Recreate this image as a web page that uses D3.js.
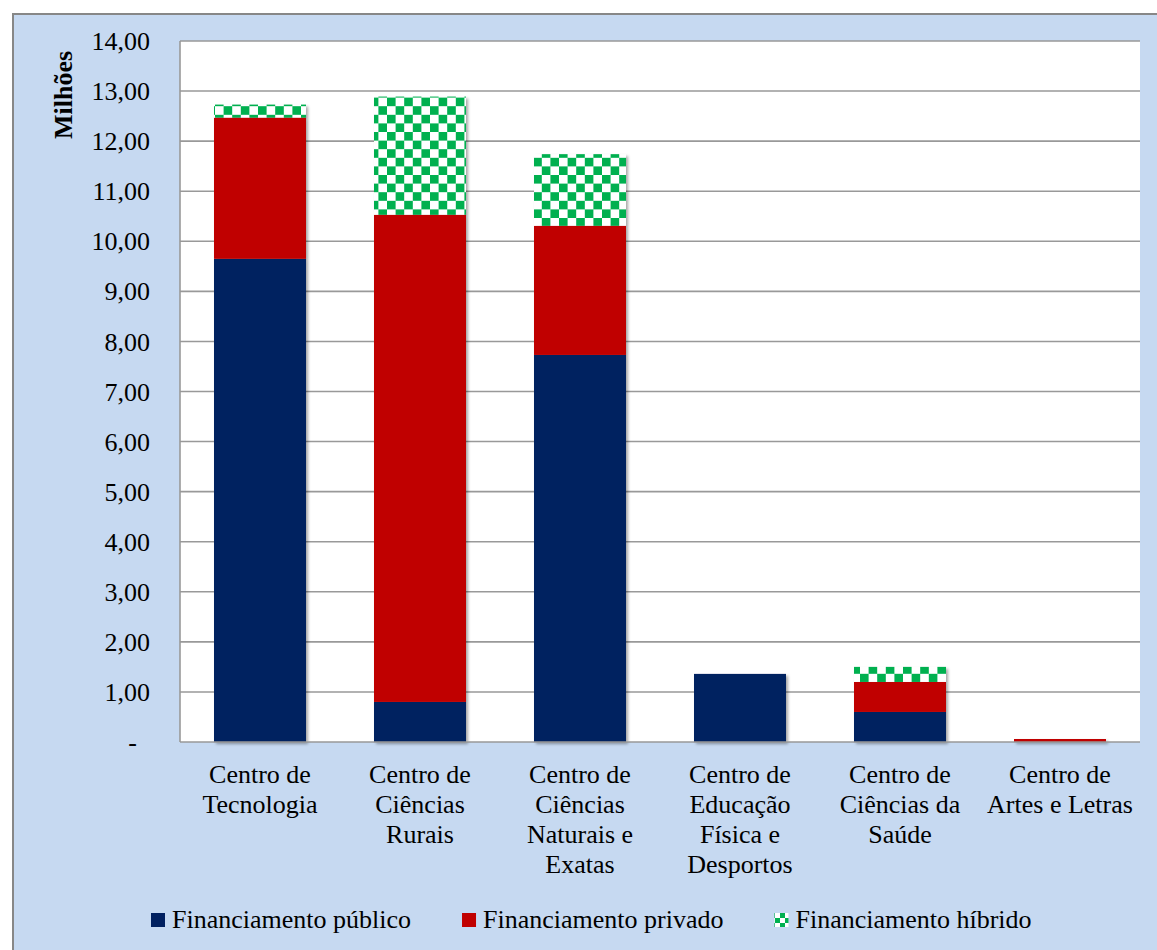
<!DOCTYPE html>
<html>
<head>
<meta charset="utf-8">
<script src="https://cdn.jsdelivr.net/npm/d3@7"></script>
<style>
  body { margin: 0; background: #fff; }
  svg text { fill: #000; }
</style>
</head>
<body>
<div id="chart"></div>
<script>
// data (millions)
const categories = [
  ["Centro de", "Tecnologia"],
  ["Centro de", "Ciências", "Rurais"],
  ["Centro de", "Ciências", "Naturais e", "Exatas"],
  ["Centro de", "Educação", "Física e", "Desportos"],
  ["Centro de", "Ciências da", "Saúde"],
  ["Centro de", "Artes e Letras"]
];
const publico = [9.65, 0.80, 7.73, 1.36, 0.60, 0.00];
const privado = [2.82, 9.73, 2.58, 0.00, 0.60, 0.06];
const hibrido = [0.26, 2.36, 1.43, 0.00, 0.30, 0.00];
const seriesNames = ["Financiamento público", "Financiamento privado", "Financiamento híbrido"];
const yTicks = [0, 1, 2, 3, 4, 5, 6, 7, 8, 9, 10, 11, 12, 13, 14];

const W = 1157, H = 950;
const plot = {left: 180, top: 41, right: 1140, bottom: 742};
const serif = "'Liberation Serif', 'Times New Roman', Times, 'DejaVu Serif', serif";

const svg = d3.select('#chart').append('svg')
    .attr('width', W).attr('height', H)
    .attr('font-family', serif)
    .style('font-family', serif);

const defs = svg.append('defs');
const pat = defs.append('pattern')
    .attr('id', 'checker')
    .attr('patternUnits', 'userSpaceOnUse')
    .attr('width', 17.2).attr('height', 17.2)
    .attr('x', 0).attr('y', 3);
pat.append('rect').attr('width', 17.2).attr('height', 17.2).attr('fill', '#fff');
pat.append('rect').attr('width', 8.6).attr('height', 8.6).attr('fill', '#00b050');
pat.append('rect').attr('x', 8.6).attr('y', 8.6).attr('width', 8.6).attr('height', 8.6).attr('fill', '#00b050');

const pat2 = defs.append('pattern')
    .attr('id', 'checkerSmall')
    .attr('patternUnits', 'userSpaceOnUse')
    .attr('width', 10).attr('height', 10)
    .attr('x', 0).attr('y', 913);
pat2.append('rect').attr('width', 10).attr('height', 10).attr('fill', '#fff');
pat2.append('rect').attr('width', 5).attr('height', 5).attr('fill', '#00b050');
pat2.append('rect').attr('x', 5).attr('y', 5).attr('width', 5).attr('height', 5).attr('fill', '#00b050');

const shadow = defs.append('filter').attr('id', 'shadow')
    .attr('x', '-10%').attr('y', '-10%').attr('width', '130%').attr('height', '130%');
shadow.append('feDropShadow')
    .attr('dx', 2).attr('dy', 2).attr('stdDeviation', 1.8)
    .attr('flood-color', '#000').attr('flood-opacity', 0.35);

// outer panel
svg.append('rect')
    .attr('x', 13).attr('y', 14)
    .attr('width', W).attr('height', H)
    .attr('fill', '#c6d9f1')
    .attr('stroke', '#878787').attr('stroke-width', 2);

// plot area
svg.append('rect')
    .attr('x', plot.left).attr('y', plot.top)
    .attr('width', plot.right - plot.left).attr('height', plot.bottom - plot.top)
    .attr('fill', '#fff');

const x = d3.scaleBand()
    .domain(d3.range(categories.length))
    .range([plot.left, plot.right])
    .paddingInner(0.425).paddingOuter(0.2125);

const y = d3.scaleLinear()
    .domain([0, 14])
    .range([plot.bottom, plot.top]);

// gridlines
svg.append('g').selectAll('line')
    .data(yTicks.filter(d => d > 0))
    .join('line')
    .attr('x1', plot.left).attr('x2', plot.right)
    .attr('y1', d => y(d)).attr('y2', d => y(d))
    .attr('stroke', '#999').attr('stroke-width', 1.6);

// y tick labels
svg.append('g').selectAll('text')
    .data(yTicks)
    .join('text')
    .attr('x', d => d === 0 ? 137 : 150)
    .attr('y', d => y(d))
    .attr('dy', '0.35em')
    .attr('text-anchor', 'end')
    .style('font-size', '26px')
    .text(d => d === 0 ? '-' : d3.format('.2f')(d).replace('.', ','));

svg.append('text')
    .attr('transform', 'translate(72,95) rotate(-90)')
    .attr('text-anchor', 'middle')
    .style('font-size', '26px')
    .style('font-weight', 'bold')
    .text('Milhões');

// stacked bars
const rows = categories.map((c, i) => ({i, publico: publico[i], privado: privado[i], hibrido: hibrido[i]}));
const stack = d3.stack().keys(['publico', 'privado', 'hibrido'])(rows);
const fills = ['#002060', '#c00000', 'url(#checker)'];

const bars = svg.append('g').attr('filter', 'url(#shadow)');
stack.forEach((layer, k) => {
    bars.append('g').selectAll('rect')
        .data(layer.filter(d => d[1] - d[0] > 0))
        .join('rect')
        .attr('x', d => x(d.data.i))
        .attr('width', x.bandwidth())
        .attr('y', d => y(d[1]))
        .attr('height', d => y(d[0]) - y(d[1]))
        .attr('fill', fills[k]);
});

// axis lines
svg.append('line')
    .attr('x1', plot.left).attr('x2', plot.left)
    .attr('y1', plot.top).attr('y2', plot.bottom)
    .attr('stroke', '#999').attr('stroke-width', 1.6);
svg.append('line')
    .attr('x1', plot.left).attr('x2', plot.right)
    .attr('y1', plot.bottom).attr('y2', plot.bottom)
    .attr('stroke', '#999').attr('stroke-width', 1.6);

// category labels
const catLabels = svg.append('g').selectAll('text')
    .data(categories)
    .join('text')
    .attr('text-anchor', 'middle')
    .style('font-size', '26px');
catLabels.each(function(lines, i) {
    const t = d3.select(this);
    lines.forEach((ln, j) => {
        t.append('tspan')
            .attr('x', x(i) + x.bandwidth() / 2)
            .attr('y', 783 + j * 30)
            .text(ln);
    });
});

// legend
const legendFills = ['#002060', '#c00000', 'url(#checkerSmall)'];
let lx = 151;
seriesNames.forEach((name, k) => {
    const g = svg.append('g');
    g.append('rect')
        .attr('x', lx).attr('y', 913)
        .attr('width', 14).attr('height', 14)
        .attr('fill', legendFills[k]);
    const t = g.append('text')
        .attr('x', lx + 21).attr('y', 928)
        .style('font-size', '26px')
        .text(name);
    lx += 21 + t.node().getComputedTextLength() + 51;
});
</script>
</body>
</html>
